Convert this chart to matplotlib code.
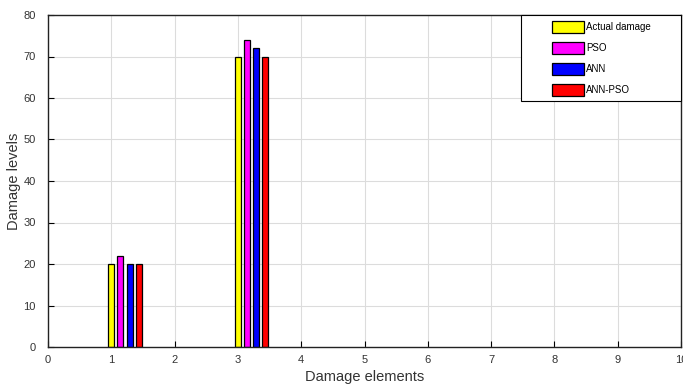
import numpy as np
import matplotlib
matplotlib.use('Agg')
import matplotlib.pyplot as plt
from matplotlib.patches import Rectangle

plt.rcParams['font.family'] = ['Liberation Sans', 'DejaVu Sans']

elements = np.arange(1, 11)
actual = [20, 0, 70, 0, 0, 0, 0, 0, 0, 0]
pso = [22, 0, 74, 0, 0, 0, 0, 0, 0, 0]
ann = [20, 0, 72, 0, 0, 0, 0, 0, 0, 0]
ann_pso = [20, 0, 70, 0, 0, 0, 0, 0, 0, 0]

series = [('Actual damage', actual, '#ffff00'),
          ('PSO', pso, '#ff00ff'),
          ('ANN', ann, '#0000ff'),
          ('ANN-PSO', ann_pso, '#ff0000')]

fig = plt.figure(figsize=(6.83, 3.85), dpi=100)
ax = fig.add_axes([48/683, 38/385, 633/683, 332/385])

w = 0.095
step = 0.145
for i, (name, vals, col) in enumerate(series):
    x = elements + i*step
    mask = np.array(vals) > 0
    ax.bar(x[mask], np.array(vals)[mask], width=w, color=col, edgecolor='black',
           linewidth=0.9, label=name)

ax.set_xlim(0, 10)
ax.set_ylim(0, 80)
ax.set_xticks(range(0, 11))
ax.set_yticks(range(0, 81, 10))
ax.tick_params(direction='in', length=4, labelsize=8, colors='black', labelcolor='#333333',
               top=False, right=False)
ax.tick_params(axis='x', pad=5.5)
ax.tick_params(axis='y', pad=9)
ax.grid(True, color='#dcdcdc', linewidth=0.8)
ax.set_axisbelow(True)
for s in ax.spines.values():
    s.set_linewidth(1.0)
    s.set_color('#222222')

ax.set_xlabel('Damage elements', fontsize=10.5, color='#333333', labelpad=4)
ax.set_ylabel('Damage levels', fontsize=10.5, color='#333333')
ax.yaxis.set_label_coords(-0.043, 0.5)

# legend box (frame drawn separately so the entries sit with wide side margins)
ax.add_patch(Rectangle((0.747, 0.741), 0.253, 0.259, transform=ax.transAxes,
                       facecolor='white', edgecolor='black', linewidth=0.8,
                       zorder=4, clip_on=False))
leg = ax.legend(loc='upper left', bbox_to_anchor=(0.796, 0.982), borderaxespad=0,
                borderpad=0, fontsize=7, frameon=False, handlelength=3.3,
                handleheight=1.45, handletextpad=0.2, labelspacing=0.98)
leg.set_zorder(5)

fig.savefig('out.png', dpi=100)
